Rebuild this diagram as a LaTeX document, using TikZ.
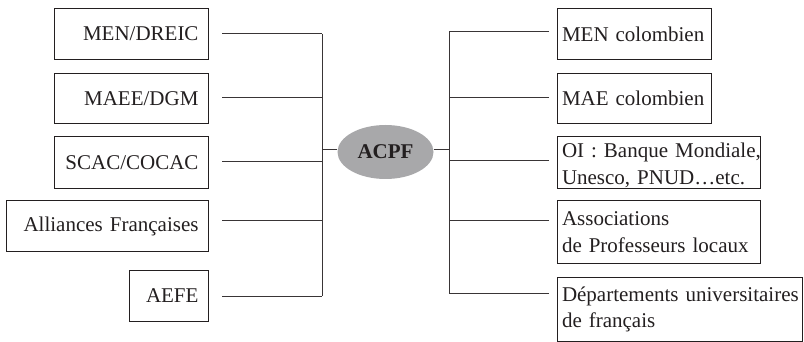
\documentclass[tikz,border=0pt]{standalone}
\usepackage{fontspec}
\setmainfont{Liberation Serif}
\usetikzlibrary{shapes.geometric}
\definecolor{acpfgray}{RGB}{168,168,170}
\definecolor{ink}{RGB}{35,31,32}
\begin{document}
\begin{tikzpicture}[x=1pt,y=-1pt,
  font=\fontsize{21}{26.5}\selectfont, text=ink,
  lbox/.style={draw=ink, line width=1pt, inner xsep=10pt, inner ysep=0pt,
    align=right, anchor=north east},
  rbox/.style={draw=ink, line width=1pt, inner xsep=4.5pt, inner ysep=0pt,
    align=left, anchor=north west},
  conn/.style={draw=ink!90, line width=1pt}]
\useasboundingbox (0,0) rectangle (804,342);

% left boxes
\node[lbox, text width=134pt, minimum height=51pt] (l1) at (209,8) {\mbox{MEN/DREIC}};
\node[lbox, text width=134pt, minimum height=50pt] (l2) at (209,73) {\mbox{MAEE/DGM}};
\node[lbox, text width=134pt, minimum height=52pt] (l3) at (209,136) {\mbox{SCAC/COCAC}};
\node[lbox, text width=182pt, minimum height=51pt] (l4) at (209,200) {\mbox{Alliances Françaises}};
\node[lbox, text width=59pt, minimum height=51pt] (l5) at (209,270) {\mbox{AEFE}};

% right boxes
\node[rbox, text width=145pt, minimum height=51pt] (r1) at (557,8) {\mbox{MEN colombien}};
\node[rbox, text width=145pt, minimum height=50pt] (r2) at (557,73) {\mbox{MAE colombien}};
\node[rbox, text width=194pt, minimum height=52pt] (r3) at (557,136) {\rule{0pt}{20pt}\mbox{OI : Banque Mondiale,}\\\mbox{Unesco, PNUD\ldots etc.}};
\node[rbox, text width=194pt, minimum height=63pt] (r4) at (557,200) {\mbox{Associations}\\\mbox{de Professeurs locaux}};
\node[rbox, text width=236pt, minimum height=64pt] (r5) at (557,277) {\mbox{Départements universitaires}\\\mbox{de français}};

% centre
\node[ellipse, fill=acpfgray, minimum width=96pt, minimum height=54pt, inner sep=0pt,
  font=\fontsize{21}{24}\selectfont\bfseries] (acpf) at (385.5,152) {ACPF};

% spine points
\coordinate (L1) at (322,34);
\coordinate (L2) at (322,98);
\coordinate (L3) at (322,162);
\coordinate (L4) at (322,221);
\coordinate (L5) at (322,296);
\coordinate (LC) at (322,149.5);
\coordinate (R1) at (449,32);
\coordinate (R2) at (449,98);
\coordinate (R3) at (449,161);
\coordinate (R4) at (449,221);
\coordinate (R5) at (449,293);
\coordinate (RC) at (449,149.5);

% left connectors
\draw[conn] (l1.east |- L1) ++(13,0) -- (L1);
\draw[conn] (l2.east |- L2) ++(13,0) -- (L2);
\draw[conn] (l3.east |- L3) ++(13,0) -- (L3);
\draw[conn] (l4.east |- L4) ++(13,0) -- (L4);
\draw[conn] (l5.east |- L5) ++(13,0) -- (L5);
\draw[conn] (L1) -- (L5);
\draw[conn] (acpf.west |- LC) -- (LC);

% right connectors
\draw[conn] (r1.west |- R1) ++(-8,0) -- (R1);
\draw[conn] (r2.west |- R2) ++(-8,0) -- (R2);
\draw[conn] (r3.west |- R3) ++(-8,0) -- (R3);
\draw[conn] (r4.west |- R4) ++(-8,0) -- (R4);
\draw[conn] (r5.west |- R5) ++(-8,0) -- (R5);
\draw[conn] (R1) -- (R5);
\draw[conn] (acpf.east |- RC) -- (RC);
\end{tikzpicture}
\end{document}
